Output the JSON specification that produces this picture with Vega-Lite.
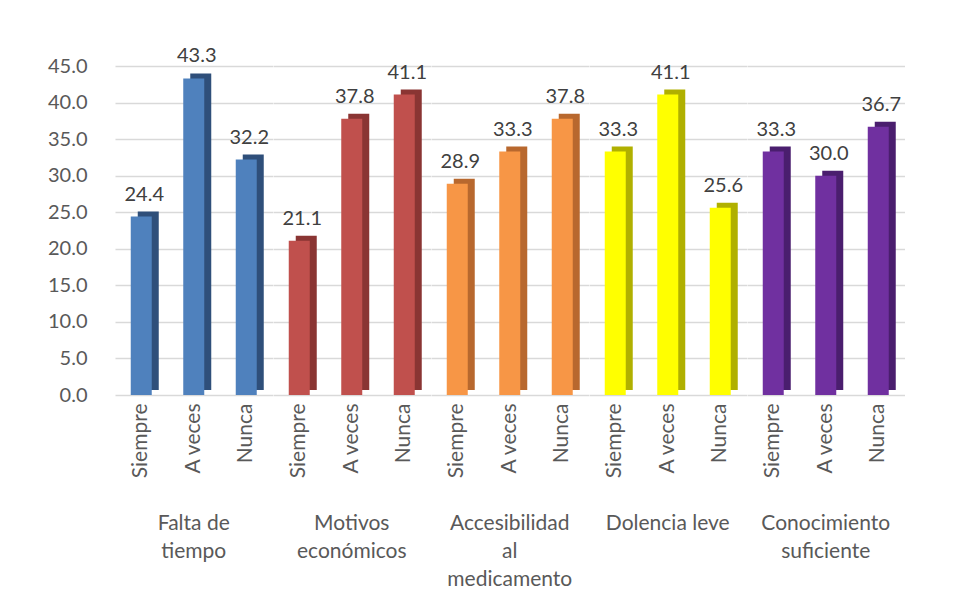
{
  "$schema": "https://vega.github.io/schema/vega-lite/v6.json",
  "background": "white",
  "padding": {"left": 47, "top": 46, "right": 40, "bottom": 5},
  "data": {"values": [
    {"grupo": "Falta de tiempo", "respuesta": "Siempre", "valor": 24.4},
    {"grupo": "Falta de tiempo", "respuesta": "A veces", "valor": 43.3},
    {"grupo": "Falta de tiempo", "respuesta": "Nunca", "valor": 32.2},
    {"grupo": "Motivos económicos", "respuesta": "Siempre", "valor": 21.1},
    {"grupo": "Motivos económicos", "respuesta": "A veces", "valor": 37.8},
    {"grupo": "Motivos económicos", "respuesta": "Nunca", "valor": 41.1},
    {"grupo": "Accesibilidad al medicamento", "respuesta": "Siempre", "valor": 28.9},
    {"grupo": "Accesibilidad al medicamento", "respuesta": "A veces", "valor": 33.3},
    {"grupo": "Accesibilidad al medicamento", "respuesta": "Nunca", "valor": 37.8},
    {"grupo": "Dolencia leve", "respuesta": "Siempre", "valor": 33.3},
    {"grupo": "Dolencia leve", "respuesta": "A veces", "valor": 41.1},
    {"grupo": "Dolencia leve", "respuesta": "Nunca", "valor": 25.6},
    {"grupo": "Conocimiento suficiente", "respuesta": "Siempre", "valor": 33.3},
    {"grupo": "Conocimiento suficiente", "respuesta": "A veces", "valor": 30.0},
    {"grupo": "Conocimiento suficiente", "respuesta": "Nunca", "valor": 36.7}
  ]},
  "facet": {
    "column": {
      "field": "grupo",
      "type": "nominal",
      "sort": ["Falta de tiempo", "Motivos económicos", "Accesibilidad al medicamento", "Dolencia leve", "Conocimiento suficiente"],
      "title": null,
      "header": {
        "labelOrient": "bottom",
        "labelFont": "Lato",
        "labelFontSize": 21,
        "labelColor": "#595959",
        "labelPadding": 35,
        "labelLineHeight": 28,
        "labelBaseline": "top",
        "labelExpr": "split(replace(replace(replace(replace(datum.label, 'Falta de ', 'Falta de|'), 'Motivos ', 'Motivos|'), ' al medicamento', '|al|medicamento'), 'Conocimiento ', 'Conocimiento|'), '|')"
      }
    }
  },
  "spacing": 0,
  "spec": {
    "width": 157.5,
    "height": 329,
    "encoding": {
      "x": {
        "field": "respuesta",
        "type": "nominal",
        "sort": ["Siempre", "A veces", "Nunca"],
        "title": null,
        "scale": {"paddingInner": 0.6, "paddingOuter": 0.3},
        "axis": {
          "labelAngle": -90,
          "labelFont": "Lato",
          "labelFontSize": 21,
          "labelColor": "#595959",
          "labelPadding": 8,
          "ticks": false,
          "domain": false
        }
      },
      "y": {
        "field": "valor",
        "type": "quantitative",
        "title": null,
        "scale": {"domain": [0, 45], "nice": false},
        "axis": {
          "values": [0, 5, 10, 15, 20, 25, 30, 35, 40, 45],
          "format": ".1f",
          "labelFont": "Lato",
          "labelFontSize": 20,
          "labelColor": "#595959",
          "labelPadding": 28,
          "ticks": false,
          "domain": false,
          "gridColor": "#D9D9D9",
          "gridWidth": 1.5
        }
      }
    },
    "layer": [
      {
        "mark": {"type": "bar", "xOffset": 7, "yOffset": -5, "y2Offset": -5},
        "encoding": {
          "fill": {
            "field": "grupo",
            "type": "nominal",
            "legend": null,
            "scale": {
              "domain": ["Falta de tiempo", "Motivos económicos", "Accesibilidad al medicamento", "Dolencia leve", "Conocimiento suficiente"],
              "range": ["#2F4F7A", "#8A3533", "#B8682E", "#B0B000", "#4A1E6E"]
            }
          }
        }
      },
      {
        "mark": {"type": "bar"},
        "encoding": {
          "color": {
            "field": "grupo",
            "type": "nominal",
            "legend": null,
            "scale": {
              "domain": ["Falta de tiempo", "Motivos económicos", "Accesibilidad al medicamento", "Dolencia leve", "Conocimiento suficiente"],
              "range": ["#4F81BD", "#C0504D", "#F79646", "#FFFF00", "#7030A0"]
            }
          }
        }
      },
      {
        "mark": {"type": "text", "font": "Lato", "fontSize": 20, "color": "#404040", "baseline": "bottom", "dy": -12, "xOffset": 3},
        "encoding": {
          "text": {"field": "valor", "type": "quantitative", "format": ".1f"}
        }
      }
    ]
  },
  "config": {
    "view": {"stroke": null}
  }
}
